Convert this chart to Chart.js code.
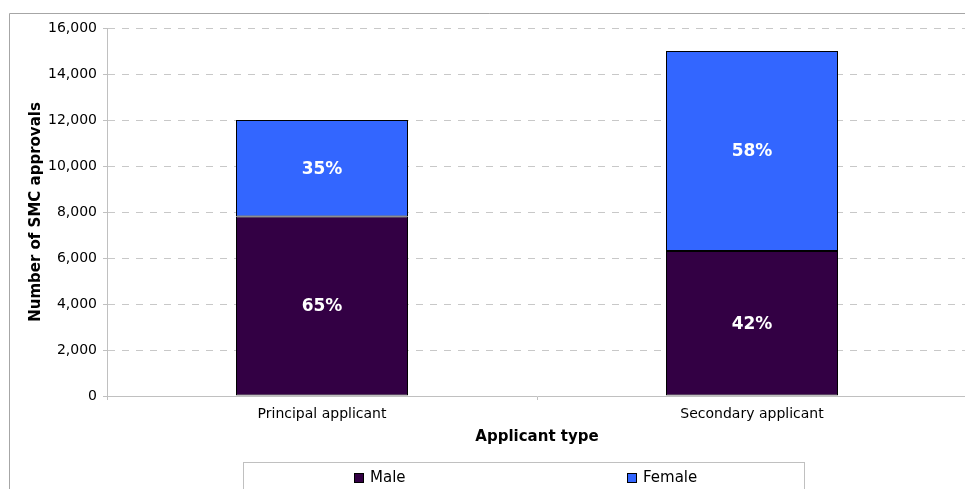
<!DOCTYPE html>
<html>
<head>
<meta charset="utf-8">
<script src="https://cdn.jsdelivr.net/npm/chart.js@4.4.0/dist/chart.umd.min.js"></script>
<style>
  html, body { margin: 0; padding: 0; background: #fff; overflow: hidden; }
  #wrap { position: relative; width: 970px; height: 489px; }
</style>
</head>
<body>
<div id="wrap"><canvas id="smcChart" width="970" height="489"></canvas></div>
<script>
// SMC approvals by applicant type, split by sex
const categories = ['Principal applicant', 'Secondary applicant'];
const maleValues = [7800, 6300];
const femaleValues = [4200, 8700];
const yTickValues = [0, 2000, 4000, 6000, 8000, 10000, 12000, 14000, 16000];

const MALE = '#330044';
const FEMALE = '#3366ff';
const FONT = "'DejaVu Sans', Verdana, sans-serif";

// outer frame of the chart
const framePlugin = {
  id: 'frame',
  beforeDraw(chart) {
    const ctx = chart.ctx;
    ctx.save();
    ctx.fillStyle = '#fff';
    ctx.fillRect(0, 0, chart.width, chart.height);
    ctx.strokeStyle = '#a6a6a6';
    ctx.lineWidth = 1;
    ctx.beginPath();
    ctx.moveTo(9.5, chart.height);
    ctx.lineTo(9.5, 13.5);
    ctx.lineTo(chart.width, 13.5);
    ctx.stroke();
    ctx.restore();
  }
};

// percentage of each bar's total, written inside the segment
const pctPlugin = {
  id: 'pctLabels',
  afterDatasetsDraw(chart) {
    const ctx = chart.ctx;
    const sets = chart.data.datasets;
    ctx.save();
    ctx.font = 'bold 17px ' + FONT;
    ctx.fillStyle = '#fff';
    ctx.textAlign = 'center';
    ctx.textBaseline = 'middle';
    sets.forEach((ds, di) => {
      chart.getDatasetMeta(di).data.forEach((bar, i) => {
        const total = sets.reduce((s, d) => s + d.data[i], 0);
        const pct = Math.round(ds.data[i] / total * 100);
        ctx.fillText(pct + '%', bar.x, (bar.y + bar.base) / 2 + 1);
      });
    });
    ctx.restore();
  }
};

// boxed legend under the axis title
const legendPlugin = {
  id: 'boxLegend',
  afterDraw(chart) {
    const ctx = chart.ctx;
    ctx.save();
    ctx.strokeStyle = '#c0c0c0';
    ctx.lineWidth = 1;
    ctx.strokeRect(243.5, 462.5, 561, 40);
    const items = [
      { label: chart.data.datasets[0].label, color: MALE, x: 354 },
      { label: chart.data.datasets[1].label, color: FEMALE, x: 627 }
    ];
    ctx.font = '15px ' + FONT;
    ctx.textBaseline = 'middle';
    ctx.textAlign = 'left';
    items.forEach(it => {
      ctx.fillStyle = it.color;
      ctx.fillRect(it.x, 473, 10, 10);
      ctx.strokeStyle = '#000';
      ctx.strokeRect(it.x + 0.5, 473.5, 9, 9);
      ctx.fillStyle = '#000';
      ctx.fillText(it.label, it.x + 16, 478);
    });
    ctx.restore();
  }
};

new Chart(document.getElementById('smcChart'), {
  type: 'bar',
  data: {
    labels: categories,
    datasets: [
      {
        label: 'Male',
        data: maleValues,
        backgroundColor: MALE,
        borderColor: '#000',
        borderWidth: 1,
        borderSkipped: false
      },
      {
        label: 'Female',
        data: femaleValues,
        backgroundColor: FEMALE,
        borderColor: '#000',
        borderWidth: 1,
        borderSkipped: false
      }
    ]
  },
  options: {
    responsive: false,
    animation: false,
    barPercentage: 0.4,
    categoryPercentage: 1.0,
    layout: { padding: { top: 28, left: 0, right: 3, bottom: 0 } },
    plugins: {
      legend: { display: false },
      tooltip: { enabled: false }
    },
    scales: {
      x: {
        stacked: true,
        afterFit(scale) { scale.height = 93; },
        grid: {
          offset: true,
          drawOnChartArea: false,
          tickLength: 4,
          tickColor: '#c0c0c0'
        },
        border: { color: '#c0c0c0' },
        ticks: {
          padding: 6,
          color: '#000',
          font: { family: FONT, size: 14 }
        },
        title: {
          display: true,
          text: 'Applicant type',
          color: '#000',
          font: { family: FONT, size: 15, weight: 'bold' },
          padding: { top: 0, bottom: 43 }
        }
      },
      y: {
        stacked: true,
        min: 0,
        max: 16000,
        afterFit(scale) { scale.width = 107; },
        afterBuildTicks(scale) {
          scale.ticks = yTickValues.map(v => ({ value: v }));
        },
        grid: {
          color: '#c8c8c8',
          tickLength: 4,
          tickColor: '#c0c0c0',
          tickBorderDash: []
        },
        border: { color: '#c0c0c0', dash: [7, 7] },
        ticks: {
          padding: 6,
          color: '#000',
          font: { family: FONT, size: 14 },
          callback: v => v.toLocaleString('en-US')
        },
        title: {
          display: true,
          text: 'Number of SMC approvals',
          color: '#000',
          font: { family: FONT, size: 15, weight: 'bold' },
          padding: { top: 27, bottom: 0 }
        }
      }
    }
  },
  plugins: [framePlugin, pctPlugin, legendPlugin]
});
</script>
</body>
</html>
